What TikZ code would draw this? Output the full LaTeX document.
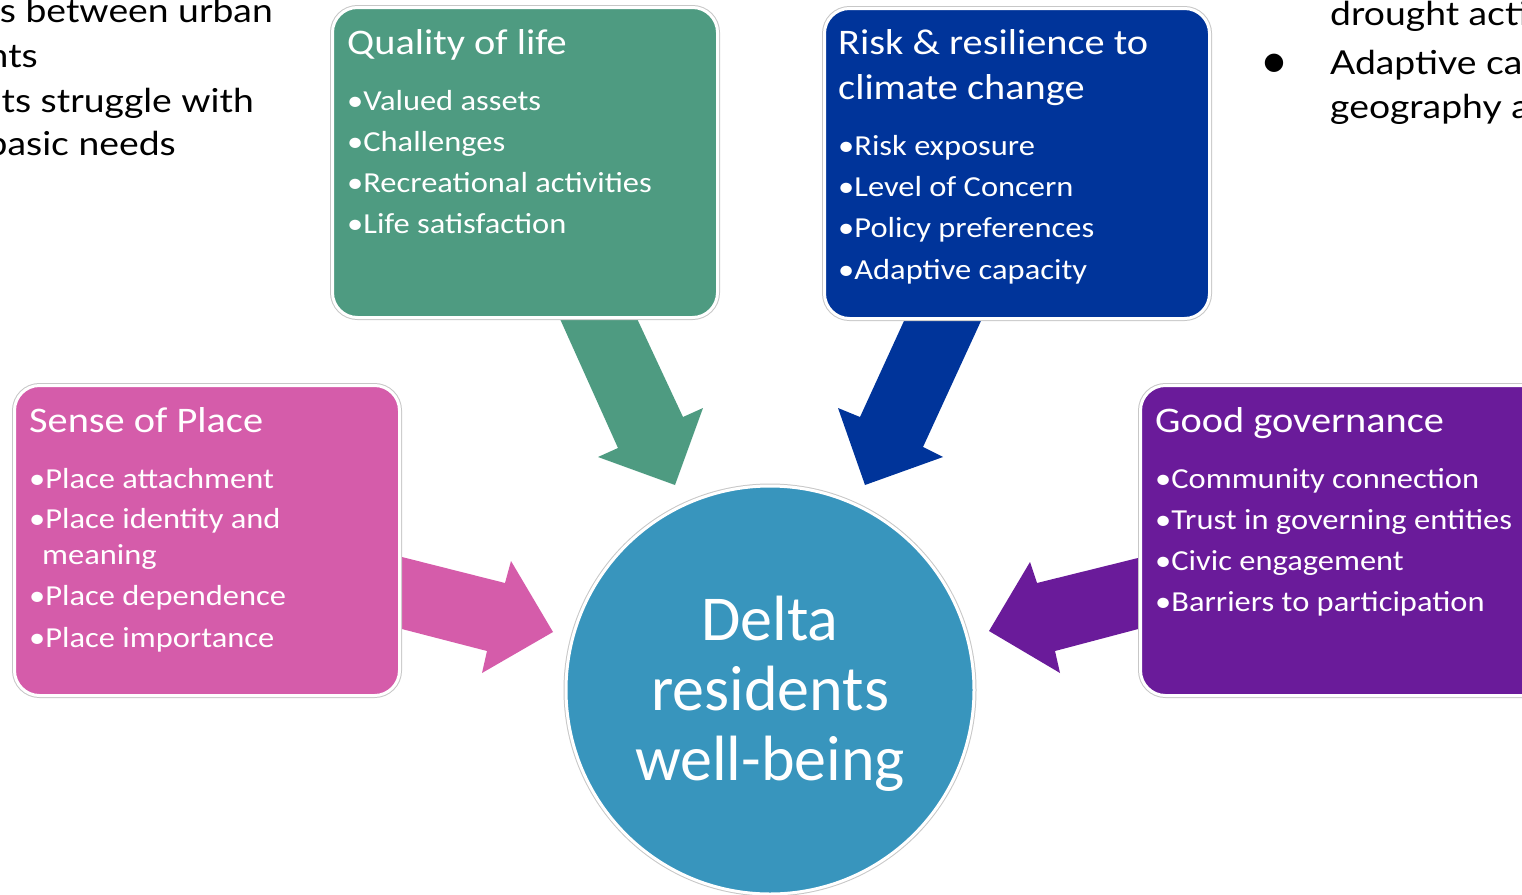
\documentclass[tikz,border=0pt]{standalone}
\usepackage{fontspec}
\newfontfamily\carl{Carlito}
\newfontfamily\carlw[FakeStretch=1.12]{Carlito}
\newfontfamily\latof[FakeStretch=1.13]{Lato}
\newfontfamily\dejav{DejaVu Sans}
\definecolor{qgreen}{RGB}{78,155,129}
\definecolor{rblue}{RGB}{0,52,154}
\definecolor{spink}{RGB}{213,92,170}
\definecolor{gpurple}{RGB}{106,27,154}
\definecolor{ccircle}{RGB}{56,149,189}
\begin{document}
\begin{tikzpicture}[x=1pt,y=-1pt,
  boxshape/.style={rectangle, rounded corners=25pt, draw=white, line width=3pt,
    preaction={draw=black!22, line width=5pt}, minimum width=385pt, minimum height=310pt,
    anchor=north west, inner sep=0pt},
  ttl/.style={anchor=base west, inner sep=0pt, text=white, font=\carlw\fontsize{36}{40}\selectfont},
  itm/.style={anchor=base west, inner sep=0pt, text=white, font=\carlw\fontsize{29}{35}\selectfont},
  bgtxt/.style={inner sep=0pt, text=black, font=\latof\fontsize{33}{38}\selectfont},
  ctxt/.style={anchor=base, inner sep=0pt, text=white, font=\carl\fontsize{64}{70}\selectfont}]
\useasboundingbox (0,0) rectangle (1522,894);

% background partial text
\node[bgtxt, anchor=base east] (l1) at (273,23) {s between urban};
\node[bgtxt, anchor=base east] (l2) at (38,67) {nts};
\node[bgtxt, anchor=base east] (l3) at (254,112) {ts struggle with};
\node[bgtxt, anchor=base east] (l4) at (176,155) {basic needs};
\node[bgtxt, anchor=base west] (r1) at (1330,25) {drought acti};
\node[inner sep=0pt, font=\dejav\fontsize{24}{24}\selectfont] (rb) at (1274,63) {●};
\node[bgtxt, anchor=base west] (r2) at (1330,74) {Adaptive ca};
\node[bgtxt, anchor=base west] (r3) at (1330,118) {geography a};

% block arrows
\fill[qgreen] (556,310) -- (633,310) -- (683,417) -- (703,408) -- (675,485) -- (598,457) -- (618,448) -- cycle;
\fill[rblue] (909,310) -- (986,310) -- (923,447) -- (943,457) -- (865,485) -- (838,408) -- (860,417) -- cycle;
\fill[spink] (398,556) -- (505,583) -- (511,561) -- (553,632) -- (482,673) -- (487,651) -- (398,628) -- cycle;
\fill[gpurple] (1142,557) -- (1037,583) -- (1030,562) -- (989,631) -- (1060,673) -- (1055,651) -- (1142,628) -- cycle;

% boxes
\node[boxshape, fill=qgreen] (qbox) at (331,6) {};
\node[boxshape, fill=rblue] (rbox) at (823,7) {};
\node[boxshape, fill=spink] (sbox) at (13,384) {};
\node[boxshape, fill=gpurple, minimum width=420pt] (gbox) at (1139,384) {};

% circle
\node[circle, fill=ccircle, draw=white, line width=3pt, preaction={draw=black!22, line width=5pt},
  minimum size=408pt, inner sep=0pt] (circ) at (770,690) {};
\node[ctxt] (d1) at (770,640) {Delta};
\node[ctxt] (d2) at (770,710) {residents};
\node[ctxt] (d3) at (770,780) {well-being};

% Quality of life
\node[ttl] (q0) at (347,54) {Quality of life};
\node[itm] (q1) at (347,110) {•Valued assets};
\node[itm] (q2) at (347,151) {•Challenges};
\node[itm] (q3) at (347,192) {•Recreational activities};
\node[itm] (q4) at (347,233) {•Life satisfaction};

% Risk
\node[ttl] (k0) at (838,54) {Risk \& resilience to};
\node[ttl] (k0b) at (838,99) {climate change};
\node[itm] (k1) at (838,155) {•Risk exposure};
\node[itm] (k2) at (838,196) {•Level of Concern};
\node[itm] (k3) at (838,237) {•Policy preferences};
\node[itm] (k4) at (838,279) {•Adaptive capacity};

% Sense of place
\node[ttl] (s0) at (29,432) {Sense of Place};
\node[itm] (s1) at (29,488) {•Place attachment};
\node[itm] (s2) at (29,528) {•Place identity and};
\node[itm] (s2b) at (42,564) {meaning};
\node[itm] (s3) at (29,605) {•Place dependence};
\node[itm] (s4) at (29,647) {•Place importance};

% Good governance
\node[ttl] (g0) at (1155,432) {Good governance};
\node[itm] (g1) at (1155,488) {•Community connection};
\node[itm] (g2) at (1155,529) {•Trust in governing entities};
\node[itm] (g3) at (1155,570) {•Civic engagement};
\node[itm] (g4) at (1155,611) {•Barriers to participation};
\end{tikzpicture}
\end{document}
